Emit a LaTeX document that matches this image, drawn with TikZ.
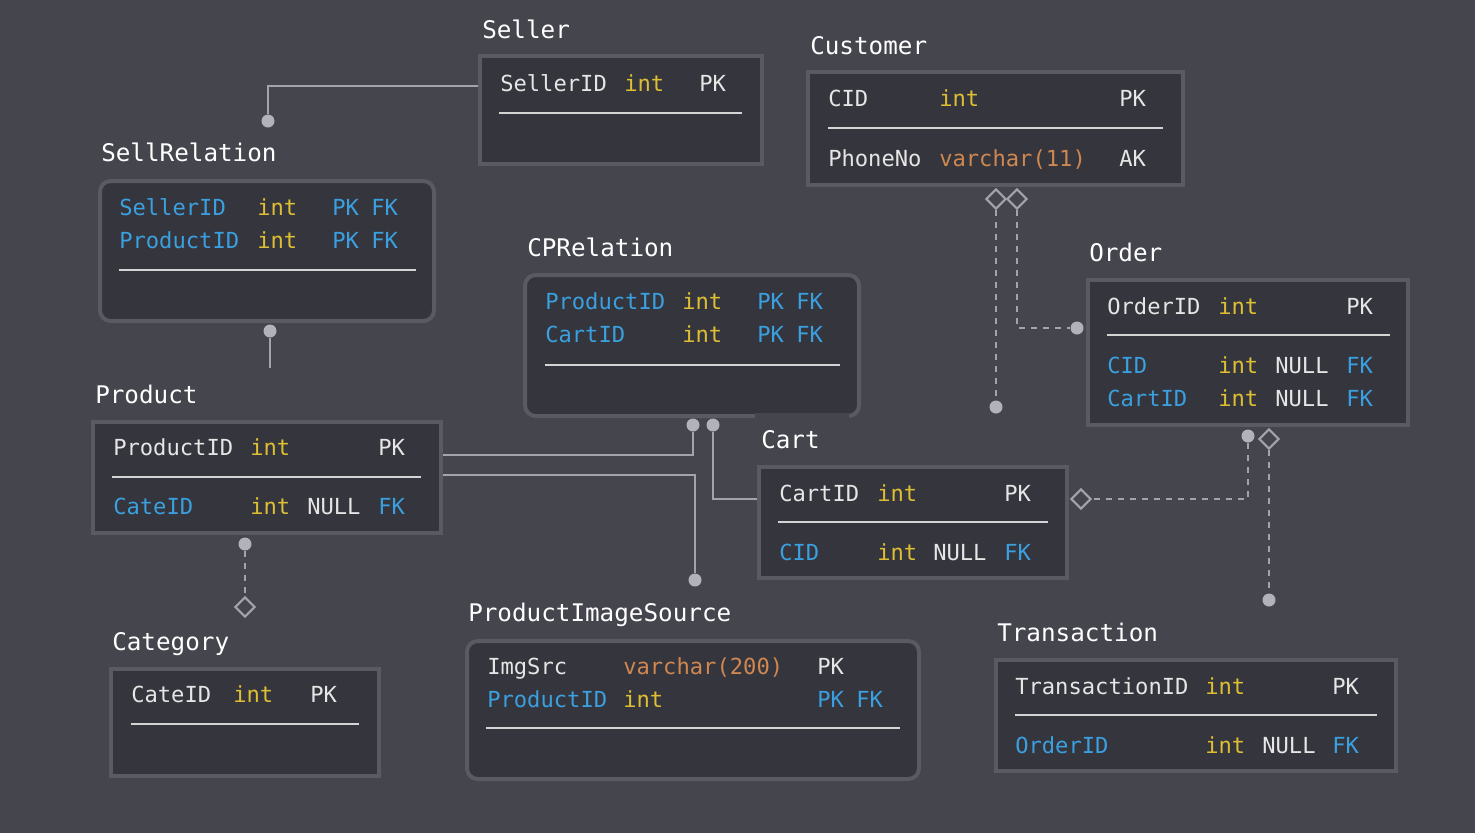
\documentclass[tikz,border=0pt]{standalone}
\usepackage{fontspec}
\usetikzlibrary{fit,shapes.geometric}
\newfontfamily\monof{DejaVu Sans Mono}
\definecolor{bgcol}{RGB}{69,69,78}
\definecolor{boxfill}{RGB}{53,53,61}
\definecolor{boxline}{RGB}{90,90,99}
\definecolor{wh}{RGB}{230,230,230}
\definecolor{yl}{RGB}{222,190,50}
\definecolor{orng}{RGB}{208,135,80}
\definecolor{blu}{RGB}{58,160,224}
\definecolor{conncol}{RGB}{163,163,171}
\definecolor{dotcol}{RGB}{178,178,186}
\definecolor{sepcol}{RGB}{212,212,212}
\pgfdeclarelayer{back}
\pgfdeclarelayer{lines}
\pgfsetlayers{back,lines,main}
\tikzset{
  tbl/.style={draw=boxline, fill=boxfill, line width=3pt, inner sep=0pt, outer sep=0pt},
  rtbl/.style={tbl, rounded corners=8pt},
  ttl/.style={anchor=base west, inner sep=0pt, text=white, font=\fontsize{18.2}{20}\monof},
  cell/.style={anchor=base west, inner sep=0pt, font=\fontsize{16.6}{20}\monof},
  cw/.style={cell, text=wh},
  cy/.style={cell, text=yl},
  co/.style={cell, text=orng},
  cb/.style={cell, text=blu},
  sepline/.style={draw=sepcol, line width=2.1pt},
  conn/.style={draw=conncol, line width=1.5pt},
  dconn/.style={conn, dash pattern=on 4.5pt off 4.5pt},
  dotnode/.style={circle, fill=dotcol, inner sep=0pt, minimum size=9.75pt},
  dia/.style={diamond, draw=conncol, fill=bgcol, line width=1.6pt, inner sep=0pt, minimum size=15pt, aspect=1}
}
\begin{document}
\begin{tikzpicture}[x=0.75pt, y=-0.75pt]
\begin{pgfonlayer}{back}
\fill[bgcol] (0,0) rectangle (1475,833);
\end{pgfonlayer}
\useasboundingbox (0,0) rectangle (1475,833);

% ---------- tables ----------
\node[tbl, fit={(480,56) (762,164)}] (seller) {};
\node[tbl, fit={(808,72) (1183,185)}] (customer) {};
\node[rtbl, fit={(100,181) (434,321)}] (sellrel) {};
\node[rtbl, fit={(525,275) (859,416)}] (cprel) {};
\fill[bgcol] (755,413) rectangle (849,421);
\node[tbl, fit={(1088,280) (1408,425)}] (order) {};
\node[tbl, fit={(93,422) (441,533)}] (product) {};
\node[tbl, fit={(759,467) (1067,578)}] (cart) {};
\node[tbl, fit={(111,669) (379,776)}] (category) {};
\node[rtbl, fit={(467,641) (919,779)}] (pis) {};
\node[tbl, fit={(996,660) (1396,771)}] (transaction) {};

% ---------- titles ----------
\node[ttl] (t-seller) at (482,38) {Seller};
\node[ttl] (t-customer) at (810,54) {Customer};
\node[ttl] (t-sellrel) at (101,161) {SellRelation};
\node[ttl] (t-cprel) at (527,256) {CPRelation};
\node[ttl] (t-order) at (1089,261) {Order};
\node[ttl] (t-product) at (95,403) {Product};
\node[ttl] (t-cart) at (761,448) {Cart};
\node[ttl] (t-category) at (112,650) {Category};
\node[ttl] (t-pis) at (468,621) {ProductImageSource};
\node[ttl] (t-transaction) at (997,641) {Transaction};

% ---------- Seller ----------
\node[cw] (s1a) at (500,91) {SellerID};
\node[cy] (s1b) at (624,91) {int};
\node[cw] (s1c) at (699,91) {PK};
\draw[sepline] (499,113) -- (742,113);

% ---------- Customer ----------
\node[cw] (c1a) at (828,106) {CID};
\node[cy] (c1b) at (939,106) {int};
\node[cw] (c1c) at (1119,106) {PK};
\draw[sepline] (828,128) -- (1163,128);
\node[cw] (c2a) at (828,166) {PhoneNo};
\node[co] (c2b) at (939,166) {varchar(11)};
\node[cw] (c2c) at (1119,166) {AK};

% ---------- SellRelation ----------
\node[cb] (sr1a) at (119,215) {SellerID};
\node[cy] (sr1b) at (257,215) {int};
\node[cb] (sr1c) at (332,215) {PK};
\node[cb] (sr1d) at (371,215) {FK};
\node[cb] (sr2a) at (119,248) {ProductID};
\node[cy] (sr2b) at (257,248) {int};
\node[cb] (sr2c) at (332,248) {PK};
\node[cb] (sr2d) at (371,248) {FK};
\draw[sepline] (119,270) -- (416,270);

% ---------- CPRelation ----------
\node[cb] (cp1a) at (545,309) {ProductID};
\node[cy] (cp1b) at (682,309) {int};
\node[cb] (cp1c) at (757,309) {PK};
\node[cb] (cp1d) at (796,309) {FK};
\node[cb] (cp2a) at (545,342) {CartID};
\node[cy] (cp2b) at (682,342) {int};
\node[cb] (cp2c) at (757,342) {PK};
\node[cb] (cp2d) at (796,342) {FK};
\draw[sepline] (545,365) -- (840,365);

% ---------- Order ----------
\node[cw] (o1a) at (1107,314) {OrderID};
\node[cy] (o1b) at (1218,314) {int};
\node[cw] (o1c) at (1346,314) {PK};
\draw[sepline] (1107,335) -- (1390,335);
\node[cb] (o2a) at (1107,373) {CID};
\node[cy] (o2b) at (1218,373) {int};
\node[cw] (o2c) at (1275,373) {NULL};
\node[cb] (o2d) at (1346,373) {FK};
\node[cb] (o3a) at (1107,406) {CartID};
\node[cy] (o3b) at (1218,406) {int};
\node[cw] (o3c) at (1275,406) {NULL};
\node[cb] (o3d) at (1346,406) {FK};

% ---------- Product ----------
\node[cw] (p1a) at (113,455) {ProductID};
\node[cy] (p1b) at (250,455) {int};
\node[cw] (p1c) at (378,455) {PK};
\draw[sepline] (112,477) -- (421,477);
\node[cb] (p2a) at (113,514) {CateID};
\node[cy] (p2b) at (250,514) {int};
\node[cw] (p2c) at (307,514) {NULL};
\node[cb] (p2d) at (378,514) {FK};

% ---------- Cart ----------
\node[cw] (ca1a) at (779,501) {CartID};
\node[cy] (ca1b) at (877,501) {int};
\node[cw] (ca1c) at (1004,501) {PK};
\draw[sepline] (778,522) -- (1048,522);
\node[cb] (ca2a) at (779,560) {CID};
\node[cy] (ca2b) at (877,560) {int};
\node[cw] (ca2c) at (933,560) {NULL};
\node[cb] (ca2d) at (1004,560) {FK};

% ---------- Category ----------
\node[cw] (cg1a) at (131,702) {CateID};
\node[cy] (cg1b) at (233,702) {int};
\node[cw] (cg1c) at (310,702) {PK};
\draw[sepline] (131,724) -- (359,724);

% ---------- ProductImageSource ----------
\node[cw] (pi1a) at (487,674) {ImgSrc};
\node[co] (pi1b) at (623,674) {varchar(200)};
\node[cw] (pi1c) at (817,674) {PK};
\node[cb] (pi2a) at (487,707) {ProductID};
\node[cy] (pi2b) at (623,707) {int};
\node[cb] (pi2c) at (817,707) {PK};
\node[cb] (pi2d) at (856,707) {FK};
\draw[sepline] (486,728) -- (900,728);

% ---------- Transaction ----------
\node[cw] (tr1a) at (1015,694) {TransactionID};
\node[cy] (tr1b) at (1205,694) {int};
\node[cw] (tr1c) at (1332,694) {PK};
\draw[sepline] (1015,715) -- (1377,715);
\node[cb] (tr2a) at (1015,753) {OrderID};
\node[cy] (tr2b) at (1205,753) {int};
\node[cw] (tr2c) at (1262,753) {NULL};
\node[cb] (tr2d) at (1332,753) {FK};

% ---------- end markers ----------
\node[dotnode] (d-sr-top) at (268,121) {};
\node[dotnode] (d-sr-bot) at (270,331) {};
\coordinate (e-sr-bot) at (270,368);
\node[dotnode] (d-cp1) at (693,425) {};
\node[dotnode] (d-cp2) at (713,425) {};
\node[dotnode] (d-pis) at (695,580) {};
\node[dotnode] (d-prod) at (245,544) {};
\node[dia] (m-cat) at (245,607) {};
\node[dia] (m-cu1) at (996,199) {};
\node[dia] (m-cu2) at (1017,199) {};
\node[dotnode] (d-or1) at (996,407) {};
\node[dotnode] (d-or2) at (1077,328) {};
\node[dotnode] (d-or3) at (1248,436) {};
\node[dia] (m-cart) at (1081,499) {};
\node[dia] (m-or4) at (1269,439) {};
\node[dotnode] (d-tr) at (1269,600) {};

% ---------- connectors ----------
\begin{pgfonlayer}{lines}
\draw[conn] (seller.north west) ++(0,30) -| (d-sr-top);
\draw[conn] (d-sr-bot) -- (e-sr-bot);
\draw[conn] (product.north east) ++(0,33) -| (d-cp1);
\draw[conn] (product.north east) ++(0,53) -| (d-pis);
\draw[conn] (cart.north west) ++(0,32) -| (d-cp2);
\draw[dconn] (d-prod) -- (m-cat);
\draw[dconn] (m-cu1) -- (d-or1);
\draw[dconn] (m-cu2) |- (d-or2);
\draw[dconn] (d-or3) |- (m-cart);
\draw[dconn] (m-or4) -- (d-tr);
\end{pgfonlayer}
\end{tikzpicture}
\end{document}
